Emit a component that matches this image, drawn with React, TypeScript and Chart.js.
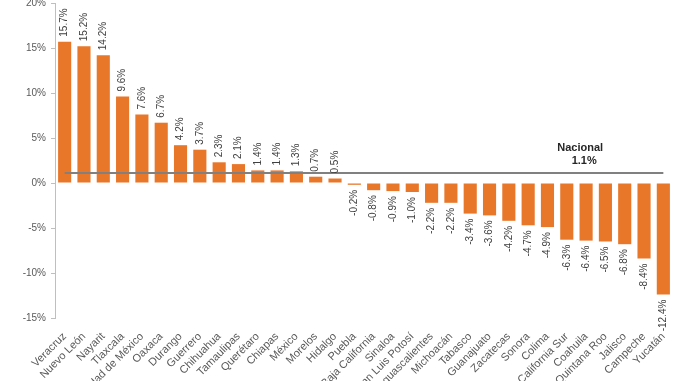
import React, { useEffect, useRef } from "react";
import { Chart, registerables } from "chart.js";

Chart.register(...registerables);

const states: string[] = [
  "Veracruz", "Nuevo León", "Nayarit", "Tlaxcala", "Ciudad de México", "Oaxaca",
  "Durango", "Guerrero", "Chihuahua", "Tamaulipas", "Querétaro", "Chiapas",
  "México", "Morelos", "Hidalgo", "Puebla", "Baja California", "Sinaloa",
  "San Luis Potosí", "Aguascalientes", "Michoacán", "Tabasco", "Guanajuato",
  "Zacatecas", "Sonora", "Colima", "Baja California Sur", "Coahuila",
  "Quintana Roo", "Jalisco", "Campeche", "Yucatán",
];

const growth: number[] = [
  15.7, 15.2, 14.2, 9.6, 7.6, 6.7, 4.2, 3.7, 2.3, 2.1, 1.4, 1.4, 1.3, 0.7, 0.5,
  -0.2, -0.8, -0.9, -1.0, -2.2, -2.2, -3.4, -3.6, -4.2, -4.7, -4.9, -6.3, -6.4,
  -6.5, -6.8, -8.4, -12.4,
];

const nationalValue = 1.1;
const nationalTitle = "Nacional";
const yTicks: number[] = [-15, -10, -5, 0, 5, 10, 15, 20];

const FONT = "'Liberation Sans', Arial, sans-serif";

const labelPlugin = {
  id: "valueLabels",
  afterDatasetsDraw(chart: any) {
    const ctx = chart.ctx;
    const meta = chart.getDatasetMeta(0);
    ctx.save();
    ctx.font = `10px ${FONT}`;
    ctx.fillStyle = "#404040";
    ctx.textBaseline = "middle";
    meta.data.forEach((el: any, i: number) => {
      const v = growth[i];
      const txt = `${v.toFixed(1)}%`;
      ctx.save();
      if (v >= 0) {
        ctx.translate(el.x, el.y - 5);
        ctx.rotate(-Math.PI / 2);
        ctx.textAlign = "left";
      } else {
        ctx.translate(el.x, el.y + 5);
        ctx.rotate(-Math.PI / 2);
        ctx.textAlign = "right";
      }
      ctx.fillText(txt, 0, 0);
      ctx.restore();
    });
    const xs = chart.scales.x;
    const ys = chart.scales.y;
    const cx = xs.getPixelForValue(26.8);
    const ly = ys.getPixelForValue(nationalValue);
    ctx.font = `bold 11px ${FONT}`;
    ctx.fillStyle = "#262626";
    ctx.textAlign = "center";
    ctx.fillText(nationalTitle, cx - 2, ly - 25);
    ctx.fillText(`${nationalValue.toFixed(1)}%`, cx + 2, ly - 12);
    ctx.restore();
  },
};

export default function App() {
  const ref = useRef<HTMLCanvasElement>(null);
  useEffect(() => {
    if (!ref.current) return;
    const chart = new Chart(ref.current, {
      type: "bar",
      data: {
        labels: states,
        datasets: [
          {
            type: "bar",
            data: growth,
            backgroundColor: "#E8772A",
            borderColor: "#D9681E",
            borderWidth: 0,
            categoryPercentage: 1,
            barPercentage: 0.68,
            order: 1,
          } as any,
          {
            type: "line",
            data: states.map(() => nationalValue),
            borderColor: "#808080",
            borderWidth: 2,
            pointRadius: 0,
            fill: false,
            order: 0,
          } as any,
        ],
      },
      options: {
        animation: false,
        responsive: false,
        maintainAspectRatio: false,
        layout: { padding: { left: 0, right: 5, top: 3, bottom: 0 } },
        plugins: { legend: { display: false }, tooltip: { enabled: false } },
        scales: {
          x: {
            grid: { display: false },
            border: { display: false },
            ticks: {
              autoSkip: false,
              maxRotation: 45,
              minRotation: 45,
              padding: 4,
              color: "#595959",
              font: { family: FONT, size: 11 },
            },
            afterFit(scale: any) {
              scale.height = 63;
              scale.paddingLeft = 0;
              scale.paddingRight = 0;
            },
          },
          y: {
            min: -15,
            max: 20,
            afterBuildTicks(scale: any) {
              scale.ticks = yTicks.map((v) => ({ value: v }));
            },
            grid: {
              drawOnChartArea: false,
              drawTicks: true,
              tickLength: 4,
              color: "#bfbfbf",
            },
            border: { display: true, color: "#bfbfbf" },
            ticks: {
              padding: 5,
              color: "#595959",
              font: { family: FONT, size: 10 },
              callback: (v: any) => `${v}%`,
            },
            afterFit(scale: any) {
              scale.width = 55;
              scale.paddingTop = 0;
              scale.paddingBottom = 0;
            },
          },
        },
      },
      plugins: [labelPlugin],
    });
    return () => chart.destroy();
  }, []);
  return (
    <div style={{ position: "fixed", left: 0, top: 0, width: 678, height: 381, background: "#fff" }}>
      <canvas ref={ref} width={678} height={381} style={{ width: 678, height: 381 }} />
    </div>
  );
}
